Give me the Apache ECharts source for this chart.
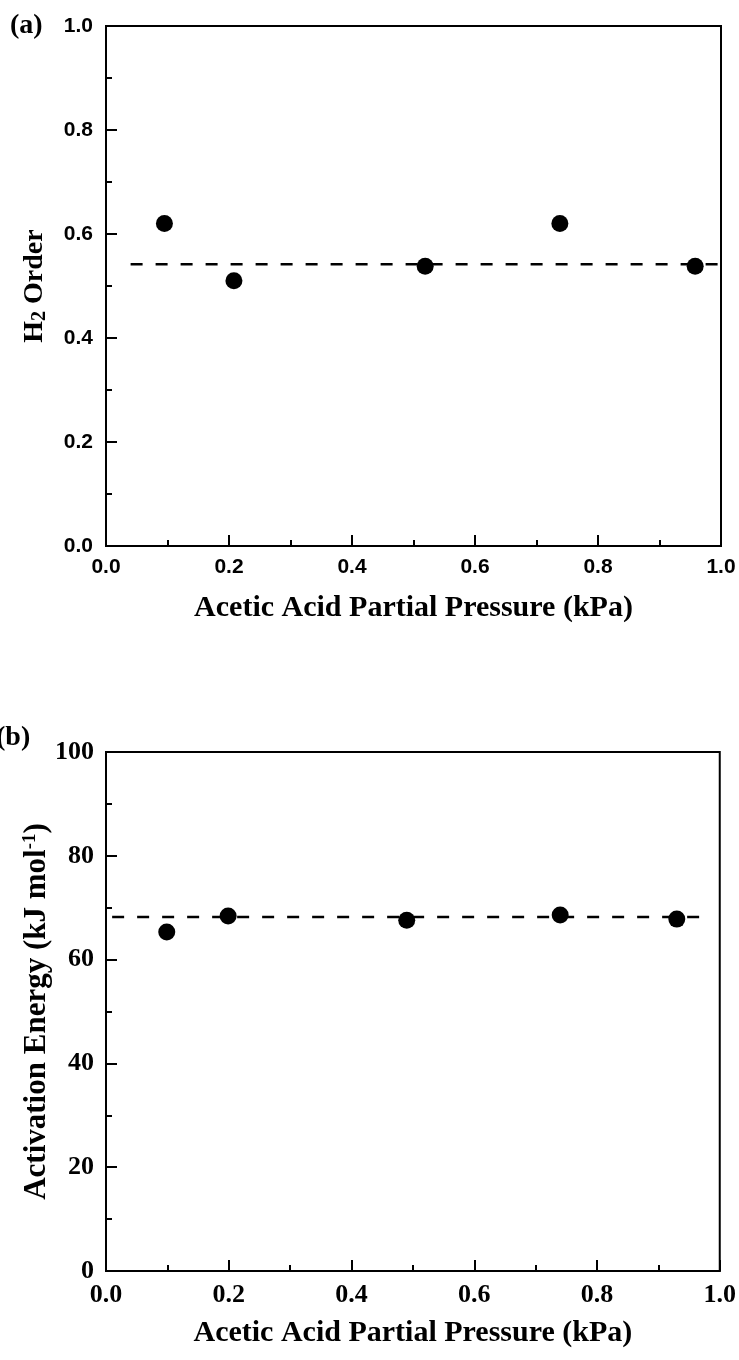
<!DOCTYPE html>
<html><head><meta charset="utf-8">
<script src="https://cdn.jsdelivr.net/npm/echarts@6/dist/echarts.min.js"></script>
<style>html,body{margin:0;padding:0;background:#fff}#c{width:739px;height:1360px}</style>
</head><body><div id="c"></div>
<script>
// Panel (a): H2 order vs acetic acid partial pressure
const pressureA = [0.095, 0.208, 0.519, 0.738, 0.958];
const h2Order   = [0.62, 0.51, 0.538, 0.62, 0.538];
const fitA      = [[0.04, 0.542], [0.995, 0.542]];
// Panel (b): activation energy vs acetic acid partial pressure
const pressureB = [0.099, 0.199, 0.49, 0.74, 0.93];
const actEnergy = [65.3, 68.4, 67.6, 68.6, 67.8];
const fitB      = [[0.01, 68.2], [0.98, 68.2]];

const chart = echarts.init(document.getElementById('c'));
const serif = 'Liberation Serif, Times New Roman, serif';
const sans = 'Liberation Sans, Arial, sans-serif';
function xAxisCfg(gi, font, size, gap) {
  return {
    type: 'value', gridIndex: gi, min: 0, max: 1, interval: 0.2,
    name: 'Acetic Acid Partial Pressure (kPa)', nameLocation: 'middle', nameGap: gap,
    nameTextStyle: {fontFamily: serif, fontWeight: 'bold', fontSize: 30, color: '#000'},
    axisLine: {show: true, lineStyle: {color: '#000', width: 2}},
    axisTick: {show: true, inside: true, length: 11, lineStyle: {color: '#000', width: 2}},
    minorTick: {show: true, splitNumber: 2, length: 6, lineStyle: {color: '#000', width: 2}},
    splitLine: {show: false},
    axisLabel: {fontFamily: font, fontWeight: 'bold', fontSize: size, color: '#000', margin: 11,
      formatter: v => v.toFixed(1)}
  };
}
const yCommon = {
  nameMoveOverlap: false,
  axisLine: {show: true, lineStyle: {color: '#000', width: 2}},
  axisTick: {show: true, inside: true, length: 11, lineStyle: {color: '#000', width: 2}},
  minorTick: {show: true, splitNumber: 2, length: 6, lineStyle: {color: '#000', width: 2}},
  splitLine: {show: false}
};
chart.setOption({
  animation: false,
  grid: [
    {left: 106, top: 26, width: 615, height: 520, show: true, borderColor: '#000', borderWidth: 2},
    {left: 106, top: 752, width: 614, height: 519, show: true, borderColor: '#000', borderWidth: 2}
  ],
  xAxis: [xAxisCfg(0, sans, 21, 47), xAxisCfg(1, serif, 26, 47)],
  yAxis: [
    Object.assign({type: 'value', gridIndex: 0, min: 0, max: 1, interval: 0.2,
     name: '{t|H}{s|2}{t| Order}', nameLocation: 'middle', nameRotate: 90, nameGap: 56,
     nameTextStyle: {rich: {
       t: {fontFamily: serif, fontWeight: 'bold', fontSize: 28, color: '#000'},
       s: {fontFamily: serif, fontWeight: 'bold', fontSize: 20, color: '#000', verticalAlign: 'bottom', padding: [10,0,0,0]}}},
     axisLabel: {fontFamily: sans, fontWeight: 'bold', fontSize: 21, color: '#000', margin: 13, formatter: v => v.toFixed(1)}}, yCommon),
    Object.assign({type: 'value', gridIndex: 1, min: 0, max: 100, interval: 20,
     name: '{t|Activation Energy (kJ mol}{p|-1}{t|)}', nameLocation: 'middle', nameRotate: 90, nameGap: 54,
     nameTextStyle: {rich: {
       t: {fontFamily: serif, fontWeight: 'bold', fontSize: 31, color: '#000'},
       p: {fontFamily: serif, fontWeight: 'bold', fontSize: 19, color: '#000', verticalAlign: 'top', padding: [0,0,12,0]}}},
     axisLabel: {fontFamily: serif, fontWeight: 'bold', fontSize: 26, color: '#000', margin: 12}}, yCommon)
  ],
  series: [
    {type: 'line', xAxisIndex: 0, yAxisIndex: 0, data: fitA, symbol: 'none',
     lineStyle: {color: '#000', width: 2.5, type: [12, 13]}},
    {type: 'scatter', xAxisIndex: 0, yAxisIndex: 0, symbolSize: 17,
     itemStyle: {color: '#000', opacity: 1}, data: pressureA.map((x, i) => [x, h2Order[i]])},
    {type: 'line', xAxisIndex: 1, yAxisIndex: 1, data: fitB, symbol: 'none',
     lineStyle: {color: '#000', width: 2.5, type: [12, 13]}},
    {type: 'scatter', xAxisIndex: 1, yAxisIndex: 1, symbolSize: 17,
     itemStyle: {color: '#000', opacity: 1}, data: pressureB.map((x, i) => [x, actEnergy[i]])}
  ],
  graphic: [
    {type: 'text', left: 10, top: 12, style: {text: '(a)', font: 'bold 28px ' + serif, fill: '#000'}},
    {type: 'text', left: -4, top: 724, style: {text: '(b)', font: 'bold 28px ' + serif, fill: '#000'}}
  ]
});
</script></body></html>
